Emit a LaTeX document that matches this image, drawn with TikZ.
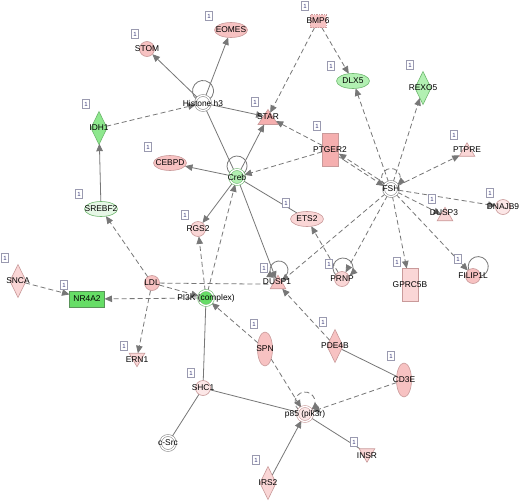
\documentclass[tikz,border=0pt]{standalone}
\usepackage{fontspec}
\setmainfont{Liberation Sans}
\usetikzlibrary{arrows.meta,shapes.geometric,backgrounds}
\definecolor{edgec}{HTML}{777777}
\definecolor{pkline}{HTML}{C99A9A}
\definecolor{grline}{HTML}{6FB86F}
\definecolor{gycirc}{HTML}{8A8A8A}
\definecolor{pk1}{HTML}{F5AFAF}
\definecolor{pk2}{HTML}{F7C2C2}
\definecolor{pk3}{HTML}{FAD6D6}
\definecolor{pk4}{HTML}{FCE7E7}
\definecolor{gr1}{HTML}{66DD66}
\definecolor{gr2}{HTML}{8EE88E}
\definecolor{gr3}{HTML}{B2F0B2}
\definecolor{gr4}{HTML}{E6F7E6}
\definecolor{onec}{HTML}{3A3A7A}
\definecolor{onebox}{HTML}{9A9AB0}
\newcommand{\nodefnt}{\fontsize{8.4}{9}\selectfont}
\newcommand{\nlab}[1]{\makebox[0pt]{#1}}
\begin{document}
\begin{tikzpicture}[x=1pt,y=1pt,
  font=\nodefnt,
  base/.style={inner sep=0pt, outer sep=0pt, line width=0.6pt, text=black},
  circ/.style={base,circle,minimum size=15pt,draw=pkline},
  ell/.style={base,ellipse,minimum width=33pt,minimum height=15pt,draw=pkline},
  vell/.style={base,ellipse,minimum width=15pt,minimum height=34pt,draw=pkline},
  dia/.style={base,diamond,minimum width=16pt,minimum height=33pt,draw=pkline},
  vrect/.style={base,rectangle,minimum width=16pt,minimum height=33pt,draw=pkline},
  hrect/.style={base,rectangle,minimum width=35pt,minimum height=16pt,draw=grline!80!black},
  rectd/.style={base,rectangle,minimum width=16pt,minimum height=13pt,draw=pkline,dash pattern=on 1.5pt off 1pt},
  trap/.style={base,trapezium,trapezium stretches=true,trapezium left angle=65,trapezium right angle=65,minimum width=20pt,minimum height=15pt,draw=pkline},
  tri/.style={base,regular polygon,regular polygon sides=3,minimum size=18pt,draw=pkline},
  dtri/.style={tri,shape border rotate=180},
  dbl/.style={base,circle,minimum size=15pt,draw=#1,double=white,double distance=1.3pt},
  txt/.style={inner sep=0pt,text=black},
  one/.style={draw=onebox,fill=white,line width=0.5pt,inner sep=0pt,minimum width=7pt,minimum height=9pt,font=\fontsize{6}{6}\selectfont,text=onec},
  ed/.style={draw=edgec,line width=0.8pt},
  arr/.style={ed,-{Triangle[length=7.5pt,width=6.5pt]}},
  dsh/.style={dash pattern=on 5pt off 3pt}
]
\useasboundingbox (0,0) rectangle (520,-501);
% ---------------- nodes ----------------
\node[rectd,fill=pk2] (bmp6) at (318,-21) {\nlab{BMP6}};
\node[ell,fill=pk2] (eomes) at (231,-30) {\nlab{EOMES}};
\node[circ,fill=pk2] (stom) at (147,-49) {\nlab{STOM}};
\node[ell,fill=gr3,draw=grline] (dlx5) at (353,-81) {\nlab{DLX5}};
\node[dia,fill=gr3,draw=grline] (rexo5) at (423,-88) {\nlab{REXO5}};
\node[dbl=gycirc,fill=white] (histone) at (203,-103) {\nlab{Histone h3}};
\node[dia,fill=gr2,draw=grline] (idh1) at (99,-128) {\nlab{IDH1}};
\node[trap,fill=pk1] (star) at (268,-117) {\nlab{STAR}};
\node[vrect,fill=pk1] (ptger2) at (330,-149.5) {\nlab{PTGER2}};
\node[tri,fill=pk3] (ptpre) at (467,-151.75) {};
\node[txt] (ptpret) at (467,-149.5) {PTPRE};
\node[ell,fill=pk2] (cebpd) at (170,-163) {\nlab{CEBPD}};
\node[dbl=grline,fill=gr3] (creb) at (237,-177) {\nlab{Creb}};
\node[dbl=gycirc,fill=white] (fsh) at (391,-189) {\nlab{FSH}};
\node[ell,fill=gr4,draw=grline] (srebf2) at (101,-209) {\nlab{SREBF2}};
\node[tri,fill=pk3] (dusp3) at (445,-216.25) {};
\node[txt] (dusp3t) at (444,-213) {DUSP3};
\node[circ,fill=pk4] (dnajb9) at (503,-207) {\nlab{DNAJB9}};
\node[ell,fill=pk3] (ets2) at (307,-219) {\nlab{ETS2}};
\node[circ,fill=pk3] (rgs2) at (198,-229) {\nlab{RGS2}};
\node[circ,fill=pk2] (ldl) at (152,-283) {\nlab{LDL}};
\node[dbl=grline,fill=gr1] (pi3k) at (206,-298) {\nlab{PI3K (complex)}};
\node[tri,fill=pk2] (dusp1) at (278,-284.25) {};
\node[txt] (dusp1t) at (277,-282) {DUSP1};
\node[circ,fill=pk3] (prnp) at (342,-279) {\nlab{PRNP}};
\node[vrect,fill=pk3] (gprc5b) at (410,-285) {\nlab{GPRC5B}};
\node[circ,fill=pk2] (filip1l) at (473,-276) {\nlab{FILIP1L}};
\node[dia,fill=pk3] (snca) at (18,-281) {\nlab{SNCA}};
\node[hrect,fill=gr1] (nr4a2) at (87,-299) {\nlab{NR4A2}};
\node[dtri,fill=pk3] (ern1) at (137,-357.75) {};
\node[txt] (ern1t) at (137,-360) {ERN1};
\node[vell,fill=pk2] (spn) at (265,-349) {\nlab{SPN}};
\node[dia,fill=pk2] (pde4b) at (335,-346) {\nlab{PDE4B}};
\node[vell,fill=pk2] (cd3e) at (404,-380) {\nlab{CD3E}};
\node[circ,fill=pk4] (shc1) at (203,-388) {\nlab{SHC1}};
\node[dbl=gycirc,fill=white] (csrc) at (168,-443) {\nlab{c-Src}};
\node[dbl=pkline,fill=pk4] (p85) at (305,-414) {\nlab{p85 (pik3r)}};
\node[dtri,fill=pk3] (insr) at (367,-453.25) {};
\node[txt] (insrt) at (367,-455.5) {INSR};
\node[dia,fill=pk3] (irs2) at (268,-483) {\nlab{IRS2}};
% ---------------- "1" tags ----------------
\node[one] (o1) at (305,-6) {1};
\node[one] (o2) at (209,-16) {1};
\node[one] (o3) at (135,-34) {1};
\node[one] (o4) at (331,-66) {1};
\node[one] (o5) at (410,-65) {1};
\node[one] (o6) at (86,-104) {1};
\node[one] (o7) at (255,-102) {1};
\node[one] (o8) at (317,-126) {1};
\node[one] (o9) at (454,-135) {1};
\node[one] (o10) at (148,-147) {1};
\node[one] (o11) at (79,-194) {1};
\node[one] (o12) at (432,-199) {1};
\node[one] (o13) at (490,-193) {1};
\node[one] (o14) at (286,-203) {1};
\node[one] (o15) at (185,-215) {1};
\node[one] (o16) at (264,-268) {1};
\node[one] (o17) at (329,-264) {1};
\node[one] (o18) at (397,-262) {1};
\node[one] (o19) at (458,-259) {1};
\node[one] (o20) at (5,-258) {1};
\node[one] (o21) at (64,-285) {1};
\node[one] (o22) at (124,-346) {1};
\node[one] (o23) at (254,-324) {1};
\node[one] (o24) at (323,-322) {1};
\node[one] (o25) at (191,-373) {1};
\node[one] (o26) at (391,-356) {1};
\node[one] (o27) at (354,-442) {1};
\node[one] (o28) at (256,-460) {1};
% ---------------- edges ----------------
\begin{scope}[on background layer]
\fill[white] (0,0) rectangle (520,-501);
\draw[arr] (histone) -- (stom);
\draw[arr] (histone) -- (eomes);
\draw[arr,dsh] (idh1) -- (histone);
\draw[arr] (histone) -- (star);
\draw[ed] (histone) -- (creb);
\draw[arr] (creb) -- (star);
\draw[arr] (creb) -- (cebpd);
\draw[arr,dsh] (ptger2) -- (creb);
\draw[arr,dsh] (ptger2) -- (star);
\draw[arr,dsh] (bmp6) -- (star);
\draw[arr,dsh] (bmp6) -- (dlx5);
\draw[arr,dsh] (fsh) -- (dlx5);
\draw[arr,dsh] (fsh) -- (rexo5);
\draw[arr,dsh] (fsh) -- (ptpre);
\draw[arr,dsh,transform canvas={xshift=0.7pt,yshift=1.1pt}] (fsh) -- (ptger2);
\draw[arr,dsh,transform canvas={xshift=-0.7pt,yshift=-1.1pt}] (ptger2) -- (fsh);
\draw[arr,dsh] (fsh) -- (dnajb9);
\draw[arr,dsh] (fsh) -- (dusp3);
\draw[arr,dsh] (fsh) -- (filip1l);
\draw[arr,dsh] (fsh) -- (gprc5b);
\draw[arr,dsh] (fsh) -- (prnp);
\draw[arr,dsh] (fsh) -- (dusp1);
\draw[arr,dsh] (prnp) -- (ets2);
\draw[ed] (creb) -- (ets2);
\draw[arr] (creb) -- (rgs2);
\draw[arr] (creb) -- (dusp1);
\draw[arr,dsh] (pi3k) -- (creb);
\draw[arr,dsh] (pi3k) -- (rgs2);
\draw[arr,dsh] (ldl) -- (srebf2);
\draw[arr] (srebf2) -- (idh1);
\draw[ed,dsh] (ldl) -- (dusp1);
\draw[arr,dsh] (ldl) -- (pi3k);
\draw[arr,dsh] (ldl) -- (ern1);
\draw[arr,dsh] (pi3k) -- (nr4a2);
\draw[arr,dsh] (snca) -- (nr4a2);
\draw[ed] (pi3k) -- (shc1);
\draw[arr,dsh] (spn) -- (pi3k);
\draw[arr,dsh] (spn) -- (p85);
\draw[arr,dsh] (pde4b) -- (dusp1);
\draw[ed] (pde4b) -- (cd3e);
\draw[arr,dsh] (cd3e) -- (p85);
\draw[ed] (shc1) -- (p85);
\draw[ed] (shc1) -- (csrc);
\draw[arr] (irs2) -- (p85);
\draw[ed] (p85) -- (insr);
% self loops
\draw[ed] ([shift={(-6.46,3.73)}]histone.center) arc[start angle=232,end angle=-52,radius=10.5];
\draw[ed] ([shift={(-6.69,3.57)}]creb.center) arc[start angle=228,end angle=-48,radius=10];
\draw[arr,dsh] ([shift={(-6.36,3.94)}]fsh.center) arc[start angle=228,end angle=-48,radius=9.5];
\draw[arr,dsh] ([shift={(-6.22,4.17)}]p85.center) arc[start angle=231.5,end angle=-51.5,radius=10];
\draw[arr] ([shift={(-5.69,3.57)}]prnp.center) arc[start angle=228,end angle=-48,radius=10];
\draw[arr] ([shift={(5.5,6.46)}]dusp1.center) arc[start angle=-60,end angle=240,radius=9];
\draw[ed] ([shift={(-4.2,6.0)}]filip1l.center) arc[start angle=200,end angle=-80,radius=10];
\end{scope}
\end{tikzpicture}
\end{document}
